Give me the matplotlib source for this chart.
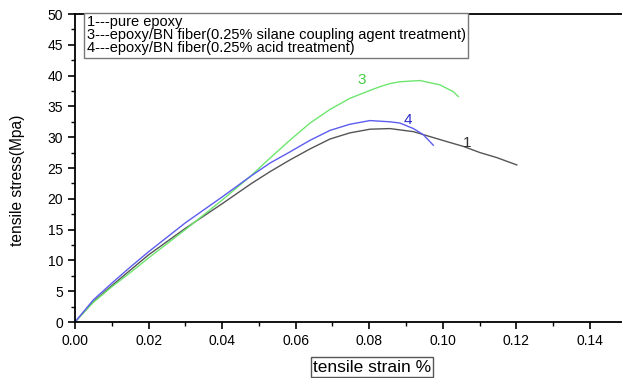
import numpy as np
import matplotlib
matplotlib.use("Agg")
import matplotlib.pyplot as plt
from matplotlib.ticker import MultipleLocator

plt.rcParams['font.family'] = ['Liberation Sans', 'DejaVu Sans']

# curve 1 - pure epoxy
strain_1 = [0, 0.005, 0.01, 0.015, 0.02, 0.03, 0.04, 0.048, 0.0530, 0.0584, 0.0639,
            0.0693, 0.0747, 0.0802, 0.0856, 0.0920, 0.0965, 0.1010, 0.1056, 0.1101,
            0.1146, 0.1201]
stress_1 = [0, 3.3, 5.9, 8.4, 10.9, 15.2, 19.2, 22.5, 24.4, 26.3, 28.1,
            29.7, 30.7, 31.3, 31.4, 30.9, 30.1, 29.3, 28.5, 27.5,
            26.7, 25.5]

# curve 3 - silane coupling agent treatment
strain_3 = [0, 0.005, 0.01, 0.015, 0.02, 0.03, 0.04, 0.0476, 0.0530, 0.0584, 0.0639,
            0.0693, 0.0747, 0.0802, 0.0829, 0.0856, 0.0883, 0.0938, 0.0992, 0.1028,
            0.1042]
stress_3 = [0, 3.2, 5.7, 8.0, 10.4, 15.0, 19.8, 23.6, 26.6, 29.5, 32.3,
            34.5, 36.3, 37.6, 38.2, 38.7, 39.0, 39.2, 38.5, 37.4,
            36.6]

# curve 4 - acid treatment
strain_4 = [0, 0.005, 0.01, 0.015, 0.02, 0.03, 0.04, 0.0476, 0.0530, 0.0584, 0.0639,
            0.0693, 0.0747, 0.0802, 0.0856, 0.0883, 0.0920, 0.0947, 0.0974]
stress_4 = [0, 3.6, 6.3, 8.9, 11.4, 16.1, 20.3, 23.6, 25.8, 27.6, 29.5,
            31.1, 32.1, 32.7, 32.5, 32.3, 31.4, 30.4, 28.7]

legend_lines = ["1---pure epoxy",
                "3---epoxy/BN fiber(0.25% silane coupling agent treatment)",
                "4---epoxy/BN fiber(0.25% acid treatment)"]

fig = plt.figure(figsize=(6.22, 3.78), dpi=100)
ax = fig.add_axes([75 / 622, 1 - 322 / 378, 547 / 622, 308 / 378])

ax.plot(strain_1, stress_1, color="#555555", lw=1.0)
ax.plot(strain_3, stress_3, color="#6ee66e", lw=1.0)
ax.plot(strain_4, stress_4, color="#5c5cf0", lw=1.0)

ax.text(0.0779, 39.3, "3", color="#44cc44", fontsize=11, ha="center", va="center")
ax.text(0.0905, 32.8, "4", color="#2a2acc", fontsize=11, ha="center", va="center")
ax.text(0.1065, 29.1, "1", color="#333333", fontsize=11, ha="center", va="center")

ax.text(0.0032, 49.8, "\n".join(legend_lines), fontsize=10.5, va="top", ha="left",
        linespacing=0.92,
        bbox=dict(boxstyle="square,pad=0.18", facecolor="white", edgecolor="#777777", lw=1.0))

ax.set_xlim(0, 0.1487)
ax.set_ylim(0, 50)
ax.xaxis.set_major_locator(MultipleLocator(0.02))
ax.xaxis.set_minor_locator(MultipleLocator(0.01))
ax.yaxis.set_major_locator(MultipleLocator(5))
ax.yaxis.set_minor_locator(MultipleLocator(2.5))
ax.xaxis.set_major_formatter(plt.FormatStrFormatter("%.2f"))
ax.tick_params(which="major", direction="out", length=5, width=1.2, labelsize=10)
ax.tick_params(which="minor", direction="out", length=3, width=1.0)
ax.spines["right"].set_visible(False)
for s in ["left", "bottom", "top"]:
    ax.spines[s].set_linewidth(1.3)

ax.set_xlabel("tensile strain %", fontsize=12.5, va="center",
              bbox=dict(boxstyle="square,pad=0.12", facecolor="white", edgecolor="#555555", lw=1.0))
ax.xaxis.set_label_coords((372 - 75) / 547, -(367 - 322) / 308)
ax.set_ylabel("tensile stress(Mpa)", fontsize=11.2, va="center")
ax.yaxis.set_label_coords(-(75 - 18) / 547, (322 - 180) / 308)

fig.savefig("out.png", dpi=100)
